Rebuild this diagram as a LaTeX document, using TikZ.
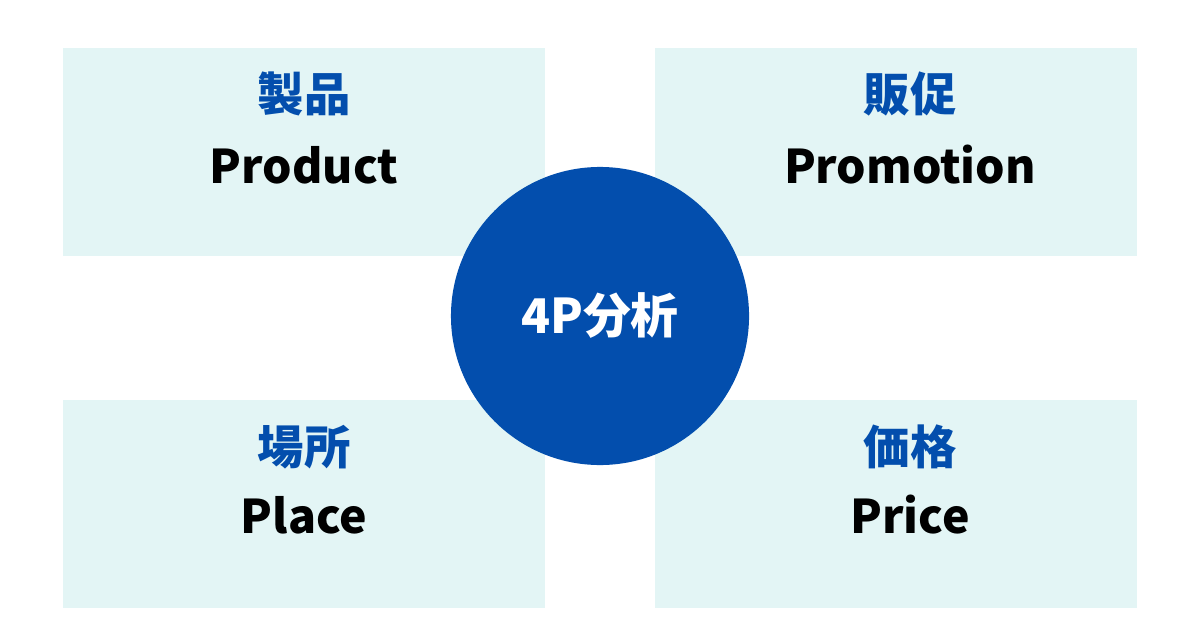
\documentclass[tikz,border=0pt]{standalone}
\usepackage{fontspec}
\setmainfont{Noto Sans CJK JP}
\usepackage{xcolor}
\usepackage{tikz}
\usetikzlibrary{positioning}

\definecolor{mainblue}{HTML}{034EAD}
\definecolor{boxfill}{HTML}{E3F5F5}

\begin{document}
\begin{tikzpicture}[
    x=0.025cm, y=-0.025cm,
    quad/.style={rectangle, fill=boxfill, minimum width=12.05cm, minimum height=5.2cm, inner sep=0pt},
    jptitle/.style={font=\fontsize{33}{36}\selectfont\bfseries, text=mainblue, inner sep=0pt, anchor=center},
    entitle/.style={font=\fontsize{33}{36}\selectfont\bfseries, text=black, inner sep=0pt, anchor=base},
    hub/.style={circle, fill=mainblue, minimum size=7.45cm, inner sep=0pt, text=white, font=\fontsize{34}{36}\selectfont\bfseries}
]
\useasboundingbox (0,0) rectangle (1200,630);

% Four quadrants
\node[quad] (product) at (304,152) {};
\node[quad] (promotion) at (896,152) {};
\node[quad] (place) at (304,504) {};
\node[quad] (price) at (896,504) {};

% Titles
\node[jptitle] (productjp) at (304,94) {製品};
\node[entitle] (producten) at (304,183) {Product};
\node[jptitle] (promotionjp) at (910,94) {販促};
\node[entitle] (promotionen) at (910,183) {Promotion};
\node[jptitle] (placejp) at (304,447) {場所};
\node[entitle] (placeen) at (304,533) {Place};
\node[jptitle] (pricejp) at (910,447) {価格};
\node[entitle] (priceen) at (910,533) {Price};

% Central circle
\node[hub] (center) at (600,316) {4P分析};

\end{tikzpicture}
\end{document}
